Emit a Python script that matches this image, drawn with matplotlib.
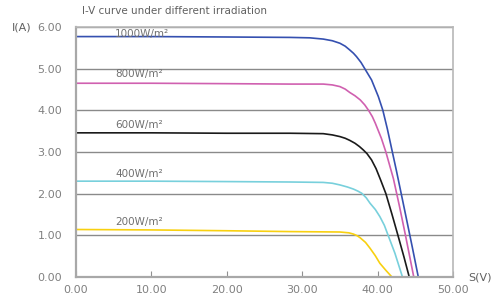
import matplotlib.pyplot as plt

# I-V curves (voltage V, current A)
v_1000 = [0, 10, 20, 28.4, 31, 32.8, 34, 35.0, 35.7, 36.3, 36.8, 37.2, 37.8, 38.3, 39.2, 40.1, 40.7, 41.3, 41.9, 42.5, 43.1, 43.8, 44.6, 45.4]
i_1000 = [5.77, 5.77, 5.76, 5.75, 5.74, 5.71, 5.67, 5.61, 5.54, 5.45, 5.37, 5.29, 5.15, 5.0, 4.73, 4.33, 4.0, 3.55, 3.05, 2.55, 2.03, 1.42, 0.72, 0.0]

v_800 = [0, 10, 20, 28.4, 32.8, 34.0, 35.0, 35.7, 36.3, 37.0, 37.7, 38.3, 38.8, 39.3, 39.7, 40.5, 41.1, 42.1, 42.9, 43.7, 44.8]
i_800 = [4.65, 4.65, 4.64, 4.63, 4.63, 4.61, 4.57, 4.51, 4.43, 4.35, 4.25, 4.13, 4.0, 3.85, 3.69, 3.33, 3.0, 2.36, 1.70, 1.0, 0.0]

v_600 = [0, 10, 20, 28.4, 32.8, 34.0, 35.0, 35.7, 36.3, 37.0, 37.6, 38.1, 38.6, 39.2, 39.8, 40.4, 41.1, 41.9, 42.7, 43.5, 44.2]
i_600 = [3.46, 3.46, 3.45, 3.45, 3.44, 3.41, 3.37, 3.33, 3.28, 3.21, 3.13, 3.05, 2.96, 2.81, 2.60, 2.33, 2.0, 1.51, 1.0, 0.48, 0.0]

v_400 = [0, 10, 20, 28.4, 32.8, 34.0, 35.0, 36.0, 36.8, 37.4, 37.9, 38.5, 39.0, 39.7, 40.3, 40.9, 41.4, 42.3, 43.3]
i_400 = [2.30, 2.30, 2.29, 2.28, 2.27, 2.25, 2.21, 2.16, 2.11, 2.06, 2.01, 1.90, 1.77, 1.62, 1.45, 1.24, 1.0, 0.57, 0.0]

v_200 = [0, 10, 20, 28.4, 35.0, 36.2, 36.8, 37.3, 37.7, 38.4, 39.0, 39.7, 40.3, 41.1, 41.9]
i_200 = [1.14, 1.13, 1.11, 1.09, 1.08, 1.06, 1.03, 0.99, 0.94, 0.83, 0.69, 0.51, 0.33, 0.16, 0.0]

labels = ["1000W/m²", "800W/m²", "600W/m²", "400W/m²", "200W/m²"]
colors = ["#3550b0", "#d060b0", "#1a1a1a", "#78d0dc", "#f8d010"]
label_y = [5.83, 4.87, 3.65, 2.47, 1.32]

xticks = [0, 10, 20, 30, 40, 50]
yticks = [0, 1, 2, 3, 4, 5, 6]

fig = plt.figure(figsize=(4.98, 3.04), dpi=100)
ax = fig.add_axes([0.1526, 0.0888, 0.7570, 0.8224])

ax.set_xlim(0, 50)
ax.set_ylim(0, 6)
ax.grid(axis="y", color="#8a8a8a", linewidth=1.0)
ax.set_axisbelow(True)

series = [(v_1000, i_1000), (v_800, i_800), (v_600, i_600), (v_400, i_400), (v_200, i_200)]
for (v, i), c, lab, ly in zip(series, colors, labels, label_y):
    ax.plot(v, i, color=c, linewidth=1.2, solid_joinstyle="round")
    ax.text(5.2, ly, lab, fontsize=7.5, color="#707070", va="center")

ax.set_xticks(xticks)
ax.set_yticks(yticks)
ax.set_xticklabels(["%.2f" % t for t in xticks])
ax.set_yticklabels(["%.2f" % t for t in yticks])
ax.tick_params(axis="x", direction="in", length=4, color="#909090", labelcolor="#808080", labelsize=8, pad=6)
ax.tick_params(axis="y", length=0, labelcolor="#808080", labelsize=8, pad=10)

for s in ["left", "bottom"]:
    ax.spines[s].set_color("#a8a8a8")
    ax.spines[s].set_linewidth(1.6)
for s in ["top", "right"]:
    ax.spines[s].set_color("#b8b8b8")
    ax.spines[s].set_linewidth(1.2)

fig.text(0.165, 0.965, "I-V curve under different irradiation", fontsize=7.5, color="#606060", va="center")
fig.text(0.024, 0.91, "I(A)", fontsize=8, color="#606060", va="center")
fig.text(0.94, 0.088, "S(V)", fontsize=8, color="#606060", va="center")

plt.savefig("out.png", dpi=100)
